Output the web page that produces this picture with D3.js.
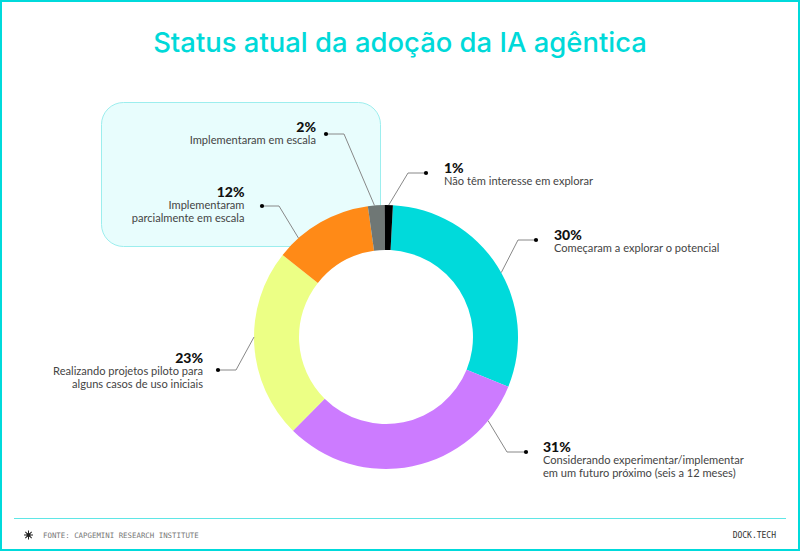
<!DOCTYPE html>
<html>
<head>
<meta charset="utf-8">
<script src="https://cdn.jsdelivr.net/npm/d3@7/dist/d3.min.js"></script>
<style>
  html, body { margin: 0; padding: 0; background: #fff; }
  svg { display: block; }
  .pct { font-family: Lato, sans-serif; font-weight: 900; font-size: 14px; fill: #111; }
  .desc { font-family: Lato, sans-serif; font-size: 11.1px; fill: #444; }
  .mono { font-family: "DejaVu Sans Mono", monospace; }
</style>
</head>
<body>
<div id="chart"></div>
<script>
// values in clockwise order, starting just right of 12 o'clock
var categories = [
  ["Começaram a explorar o potencial"],
  ["Considerando experimentar/implementar", "em um futuro próximo (seis a 12 meses)"],
  ["Realizando projetos piloto para", "alguns casos de uso iniciais"],
  ["Implementaram", "parcialmente em escala"],
  ["Implementaram em escala"],
  ["Não têm interesse em explorar"]
];
var values = [30, 31, 23, 12, 2, 1];
var colors = ["#00dadb", "#cc7bff", "#ecff85", "#ff8a17", "#6f7775", "#000000"];

var width = 800, height = 551;
var cx = 386, cy = 337, outerR = 132, innerR = 87;
var startDeg = 3;

// label layout, same order as values: text anchor point + elbow of the leader
var labelLayout = [
  { anchor: "start", tx: 554, ty: 240, dot: [536, 240], elbow: [518, 240], at: 0.53 },
  { anchor: "start", tx: 543, ty: 452, dot: [526, 452], elbow: [507, 452], at: 0.153 },
  { anchor: "end",   tx: 203, ty: 363, dot: [218, 370], elbow: [236, 370], at: 0.54 },
  { anchor: "end",   tx: 244.5, ty: 197, dot: [262, 206], elbow: [279, 206], at: 0.23 },
  { anchor: "end",   tx: 316, ty: 132, dot: [326, 134], elbow: [344, 134], at: 0.4 },
  { anchor: "start", tx: 444, ty: 173, dot: [426, 173], elbow: [408, 173], at: 0.5 }
];

var svg = d3.select("#chart").append("svg")
    .attr("width", width)
    .attr("height", height);

// frame
svg.append("rect")
    .attr("x", 1).attr("y", 1)
    .attr("width", width - 2).attr("height", height - 2)
    .attr("fill", "#fff")
    .attr("stroke", "#00dadb")
    .attr("stroke-width", 2);

svg.append("text")
    .attr("x", 400).attr("y", 51.5)
    .attr("text-anchor", "middle")
    .attr("font-family", "Inter, sans-serif")
    .attr("font-weight", 500)
    .attr("font-size", 27.45)
    .attr("fill", "#00d9d9")
    .text("Status atual da adoção da IA agêntica");

// highlight panel behind the two "implemented" groups
svg.append("rect")
    .attr("x", 101.5).attr("y", 102.5)
    .attr("width", 279).attr("height", 144)
    .attr("rx", 22)
    .attr("fill", "#e8fdfd")
    .attr("stroke", "#9ceeee");

var pie = d3.pie().sort(null)
    .startAngle(startDeg * Math.PI / 180)
    .endAngle((startDeg + 360) * Math.PI / 180);
var arc = d3.arc().innerRadius(innerR).outerRadius(outerR);
var arcs = pie(values);

var g = svg.append("g").attr("transform", "translate(" + cx + "," + cy + ")");
g.selectAll("path")
    .data(arcs)
  .enter().append("path")
    .attr("d", arc)
    .attr("fill", function(d, i) { return colors[i]; });

// leaders run from the donut edge to the elbow, then flat to the dot
var leaders = svg.append("g");
arcs.forEach(function(d, i) {
  var l = labelLayout[i];
  var a = d.startAngle + (d.endAngle - d.startAngle) * l.at;
  var ex = cx + Math.sin(a) * outerR, ey = cy - Math.cos(a) * outerR;
  leaders.append("path")
      .attr("d", d3.line()([[ex, ey], l.elbow, l.dot]))
      .attr("fill", "none")
      .attr("stroke", "#888")
      .attr("stroke-width", 1);
  leaders.append("circle")
      .attr("cx", l.dot[0]).attr("cy", l.dot[1]).attr("r", 2.1)
      .attr("fill", "#000");

  var t = svg.append("text").attr("text-anchor", l.anchor);
  t.append("tspan").attr("class", "pct")
      .attr("x", l.tx).attr("y", l.ty)
      .text(values[i] + "%");
  categories[i].forEach(function(line, k) {
    t.append("tspan").attr("class", "desc")
        .attr("x", l.tx).attr("y", l.ty + 12.2 + k * 12.5)
        .text(line);
  });
});

// footer
svg.append("line")
    .attr("x1", 14).attr("x2", 786)
    .attr("y1", 518.5).attr("y2", 518.5)
    .attr("stroke", "#5fe6e6");

var star = svg.append("g").attr("transform", "translate(28.5,535)");
d3.range(4).forEach(function(i) {
  star.append("line")
      .attr("x1", -4.5).attr("x2", 4.5)
      .attr("transform", "rotate(" + (i * 45) + ")")
      .attr("stroke", "#222").attr("stroke-width", 1);
});
star.append("circle").attr("r", 2).attr("fill", "#222");

svg.append("text").attr("class", "mono")
    .attr("x", 43).attr("y", 538)
    .attr("font-size", 7.4)
    .attr("fill", "#777")
    .text("FONTE: CAPGEMINI RESEARCH INSTITUTE");

svg.append("text").attr("class", "mono")
    .attr("x", 776).attr("y", 538)
    .attr("font-size", 8)
    .attr("text-anchor", "end")
    .attr("fill", "#333")
    .text("DOCK.TECH");
</script>
</body>
</html>
